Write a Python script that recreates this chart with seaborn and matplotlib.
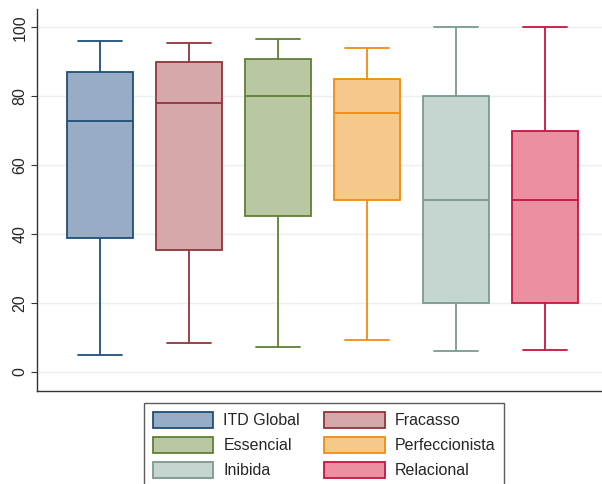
import matplotlib
matplotlib.use("Agg")
import matplotlib.pyplot as plt
from matplotlib.patches import Patch
import seaborn as sns

# five-number summaries: min, Q1, median, Q3, max
labels = ["ITD Global", "Fracasso", "Essencial", "Perfeccionista", "Inibida", "Relacional"]
itd_global = [5.0, 38.8, 72.8, 87.1, 96.0]
fracasso = [8.5, 35.5, 78.0, 90.0, 95.5]
essencial = [7.3, 45.2, 80.0, 90.8, 96.6]
perfeccionista = [9.3, 50.0, 75.1, 85.0, 94.0]
inibida = [6.2, 20.0, 50.0, 80.0, 100.0]
relacional = [6.5, 20.0, 50.0, 70.0, 100.0]
series = [itd_global, fracasso, essencial, perfeccionista, inibida, relacional]

fill_colors = ["#98acc5", "#d6a8aa", "#b9c8a2", "#f5c98a", "#c5d5cf", "#ec8fa0"]
edge_colors = ["#1f4e79", "#90353b", "#5f7f35", "#f08c10", "#7a9a8e", "#c8143e"]

sns.set_style("white")
plt.rcParams["font.family"] = ["Liberation Sans", "DejaVu Sans"]

fig = plt.figure(figsize=(6.02, 4.84), dpi=100)
ax = fig.add_axes([37 / 602, 1 - 391 / 484, 1 - 37 / 602, (391 - 9) / 484])

for lab, vals, fc, ec in zip(labels, series, fill_colors, edge_colors):
    sns.boxplot(x=[lab] * len(vals), y=vals, order=labels, ax=ax,
                color=fc, linecolor=ec, linewidth=1.3, width=0.74,
                whis=float("inf"), showfliers=False, saturation=1,
                capwidths=0.5)

# make sure fills are exactly the light tone
for patch, fc, ec in zip(ax.patches, fill_colors, edge_colors):
    patch.set_facecolor(fc)
    patch.set_edgecolor(ec)

ax.set_xlim(-0.71, 5.64)
ax.set_ylim(-5.5, 105.3)
ax.set_yticks([0, 20, 40, 60, 80, 100])
ax.set_xticks([])
ax.set_xlabel("")
ax.set_ylabel("")
ax.yaxis.grid(True, color="#eaf0f0", linewidth=1.0)
ax.set_axisbelow(True)
for lbl in ax.get_yticklabels():
    lbl.set_rotation(90)
    lbl.set_va("center")
ax.tick_params(axis="y", left=True, length=4, width=0.8, color="#333333",
               labelsize=11.5, pad=3)
for side in ["top", "right"]:
    ax.spines[side].set_visible(False)
for side in ["left", "bottom"]:
    ax.spines[side].set_color("#333333")
    ax.spines[side].set_linewidth(1.0)

# legend, filled column by column -> reorder to read row by row
order = [0, 2, 4, 1, 3, 5]
handles = [Patch(facecolor=fill_colors[i], edgecolor=edge_colors[i], linewidth=1.3,
                 label=labels[i]) for i in order]
leg = fig.legend(handles=handles, ncol=2, loc="upper left",
                 bbox_to_anchor=(144 / 602, 1 - 403 / 484), borderaxespad=0,
                 fontsize=11.5, handlelength=3.8, handleheight=1.2,
                 handletextpad=0.62, columnspacing=1.5, labelspacing=0.52,
                 borderpad=0.55, fancybox=False, frameon=True)
leg.get_frame().set_edgecolor("#333333")
leg.get_frame().set_linewidth(1.0)

fig.savefig("out.png", dpi=100)
